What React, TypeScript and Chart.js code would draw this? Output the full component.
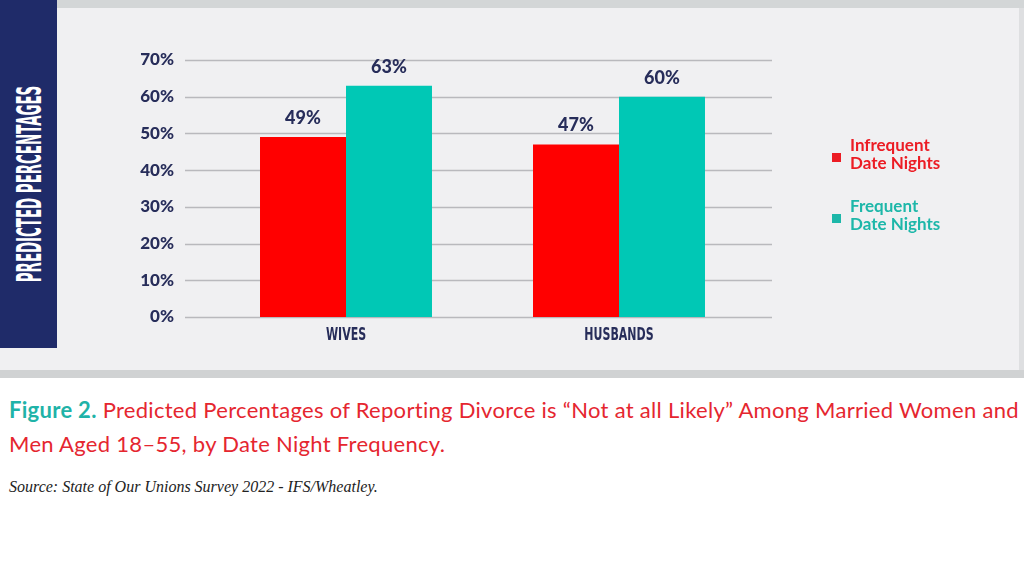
import { useEffect, useRef } from 'react';
import { Chart, registerables } from 'chart.js';
Chart.register(...registerables);

const CATEGORIES = ['WIVES', 'HUSBANDS'];
const INFREQUENT = [49, 47];
const FREQUENT = [63, 60];
const SERIES_NAMES = [['Infrequent', 'Date Nights'], ['Frequent', 'Date Nights']];
const SERIES_COLORS = ['#ff0000', '#00c8b5'];
const LEGEND_COLORS = ['#ec1c24', '#1db7a9'];
const Y_MAX = 70;
const Y_STEP = 10;

const NAVY = '#272d5a';

// horizontal rules run wider than the bar area, so they are drawn here
const gridPlugin = {
  id: 'wideGrid',
  beforeDatasetsDraw(chart: Chart) {
    const ctx = chart.ctx;
    const y = chart.scales.y;
    ctx.save();
    ctx.strokeStyle = '#b9b9bd';
    ctx.lineWidth = 1.5;
    y.ticks.forEach(t => {
      const py = Math.round(y.getPixelForValue(t.value)) + 0.5;
      ctx.beginPath();
      ctx.moveTo(185, py);
      ctx.lineTo(772, py);
      ctx.stroke();
    });
    ctx.restore();
  },
};

// condensed category labels (squeezed horizontally)
const catPlugin = {
  id: 'catLabels',
  afterDraw(chart: Chart) {
    const ctx = chart.ctx;
    const x = chart.scales.x;
    ctx.save();
    ctx.fillStyle = NAVY;
    ctx.font = 'bold 17px "DejaVu Sans Condensed", "DejaVu Sans", sans-serif';
    ctx.textAlign = 'center';
    ctx.textBaseline = 'middle';
    (chart.data.labels as string[]).forEach((l, i) => {
      const px = x.getPixelForTick(i);
      ctx.save();
      ctx.translate(px, 336);
      ctx.scale(0.72, 1);
      ctx.fillText(l, 0, 0);
      ctx.restore();
    });
    ctx.restore();
  },
};

const valuePlugin = {
  id: 'values',
  afterDatasetsDraw(chart: Chart) {
    const ctx = chart.ctx;
    ctx.save();
    ctx.fillStyle = NAVY;
    ctx.font = '900 18px Lato';
    ctx.textAlign = 'center';
    ctx.textBaseline = 'bottom';
    chart.data.datasets.forEach((ds, i) => {
      chart.getDatasetMeta(i).data.forEach((bar, j) => {
        ctx.fillText(`${ds.data[j]}%`, bar.x, bar.y - 10);
      });
    });
    ctx.restore();
  },
};

export default function App() {
  const chartRef = useRef<HTMLCanvasElement>(null);
  const chartInstance = useRef<Chart | null>(null);

  useEffect(() => {
    document.body.style.margin = '0';
    if (!chartRef.current) return;
    if (chartInstance.current) chartInstance.current.destroy();

    chartInstance.current = new Chart(chartRef.current, {
      type: 'bar',
      data: {
        labels: CATEGORIES,
        datasets: [
          { label: SERIES_NAMES[0].join(' '), data: INFREQUENT, backgroundColor: SERIES_COLORS[0], categoryPercentage: 0.63, barPercentage: 1 },
          { label: SERIES_NAMES[1].join(' '), data: FREQUENT, backgroundColor: SERIES_COLORS[1], categoryPercentage: 0.63, barPercentage: 1 },
        ],
      },
      options: {
        animation: false,
        responsive: true,
        maintainAspectRatio: false,
        layout: { padding: { top: 60, right: 268.5, bottom: 0, left: 0 } },
        plugins: { legend: { display: false }, tooltip: { enabled: false } },
        scales: {
          x: {
            grid: { display: false, drawTicks: false },
            border: { display: false },
            ticks: { display: false },
            afterFit: (s) => { s.height = 53; },
          },
          y: {
            min: 0,
            max: Y_MAX,
            grid: { display: false, drawTicks: false },
            border: { display: false },
            ticks: {
              stepSize: Y_STEP,
              color: NAVY,
              padding: 35.5,
              font: { family: 'Lato', size: 17, weight: '900' },
              callback: (v) => `${v}%`,
            },
            afterFit: (s) => { s.width = 209.5; },
          },
        },
      },
      plugins: [gridPlugin, valuePlugin, catPlugin],
    });
    return () => { chartInstance.current?.destroy(); };
  }, []);

  return (
    <div style={{ position: 'fixed', left: 0, top: 0, width: 1024, height: 576, background: '#fff', overflow: 'hidden', fontFamily: 'Lato, sans-serif' }}>
      <div style={{ position: 'absolute', left: 0, top: 0, width: 1024, height: 8, background: '#d3d6d7' }} />
      <div style={{ position: 'absolute', left: 0, top: 8, width: 1019, height: 362, background: '#f0f0f2' }} />
      <div style={{ position: 'absolute', left: 1019, top: 8, width: 5, height: 362, background: '#dedfe1' }} />
      <div style={{ position: 'absolute', left: 0, top: 370, width: 1024, height: 8, background: '#d0d2d3' }} />

      <div style={{ position: 'absolute', left: 0, top: 0, width: 1024, height: 370 }}>
        <canvas ref={chartRef} />
      </div>

      <div style={{ position: 'absolute', left: 0, top: 0, width: 57, height: 348, background: '#1f2b69' }}>
        <div style={{
          position: 'absolute', left: 29.5, top: 184, whiteSpace: 'nowrap',
          transform: 'translate(-50%, -50%) rotate(-90deg) scaleX(0.45)',
          color: '#fff', fontFamily: '"DejaVu Sans Condensed", "DejaVu Sans", sans-serif',
          fontWeight: 'bold', fontSize: 33, lineHeight: '34px',
        }}>PREDICTED PERCENTAGES</div>
      </div>

      {SERIES_NAMES.map((lines, i) => (
        <div key={i} style={{ position: 'absolute', left: 832, top: 136 + i * 61, display: 'flex', alignItems: 'center' }}>
          <div style={{ width: 9, height: 9, background: LEGEND_COLORS[i], marginRight: 9, marginTop: 6 }} />
          <div style={{ color: LEGEND_COLORS[i], fontWeight: 'bold', fontSize: 17, lineHeight: '18px' }}>
            {lines.map(l => <div key={l}>{l}</div>)}
          </div>
        </div>
      ))}

      <div style={{ position: 'absolute', left: 9, top: 393, fontSize: 22, lineHeight: '34px', letterSpacing: 0.3, color: '#e5262f', whiteSpace: 'nowrap' }}>
        <span style={{ color: '#1fb3a8', fontWeight: 'bold' }}>Figure 2.</span> Predicted Percentages of Reporting Divorce is “Not at all Likely” Among Married Women and<br />
        Men Aged 18–55, by Date Night Frequency.
      </div>
      <div style={{ position: 'absolute', left: 9, top: 478, fontSize: 16, fontStyle: 'italic', fontFamily: '"Liberation Serif", serif', color: '#222' }}>
        Source: State of Our Unions Survey 2022 - IFS/Wheatley.
      </div>
    </div>
  );
}
